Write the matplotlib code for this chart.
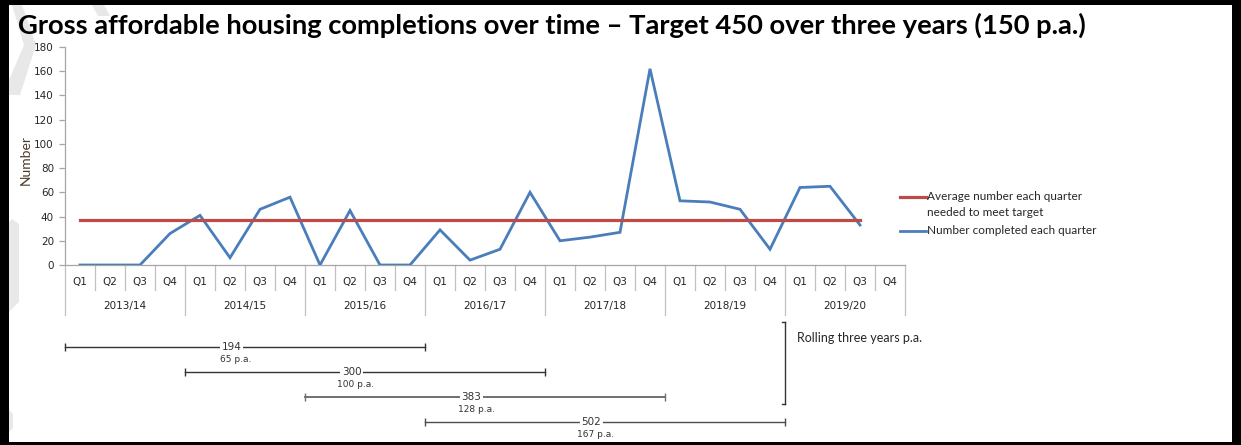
import matplotlib
matplotlib.use("Agg")
import matplotlib.pyplot as plt
import numpy as np
from matplotlib.lines import Line2D
from matplotlib.patches import Polygon, Rectangle

# quarterly completions, 2013/14 Q1 .. 2019/20 Q4 (last quarter not yet reported)
years = ["2013/14", "2014/15", "2015/16", "2016/17", "2017/18", "2018/19", "2019/20"]
quarter_names = ["Q1", "Q2", "Q3", "Q4"]
completions = [0, 0, 0, 26,
               41, 6, 46, 56,
               0, 45, 0, 0,
               29, 4, 13, 60,
               20, 23, 27, 162,
               53, 52, 46, 13,
               64, 65, 33, np.nan]

target_total = 450
target_years = 3
target_quarter = target_total / target_years / 4

# rolling three-year windows: first quarter index and total completed
window_starts = [0, 4, 8, 12]
window_totals = [194, 300, 383, 502]

W, H = 1241, 445


def fx(px):
    return px / W


def fy(py):
    return 1 - py / H


fig = plt.figure(figsize=(W / 100, H / 100), dpi=100)
fig.patch.set_facecolor("white")

# faint grey chevrons from the slide background
grey = "#e8e8e8"
shapes = [
    [(9, 5), (22, 5), (36, 45), (20, 95), (9, 95), (9, 80), (24, 45), (12, 5)],
    [(9, 222), (12, 219), (19, 224), (19, 302), (9, 312)],
    [(9, 410), (13, 414), (13, 428), (9, 432)],
    [(92, 5), (104, 5), (110, 16), (98, 16)],
]
for pts in shapes:
    fig.patches.append(Polygon([(fx(a), fy(b)) for a, b in pts], closed=True,
                               facecolor=grey, edgecolor="none",
                               transform=fig.transFigure, zorder=-2))

# black slide frame
for x0, y0, x1, y1 in [(0, 0, W, 5), (0, 0, 9, H), (1232, 0, W, H), (0, 442, W, H)]:
    fig.patches.append(Rectangle((fx(x0), fy(y1)), (x1 - x0) / W, (y1 - y0) / H,
                                 facecolor="black", edgecolor="none",
                                 transform=fig.transFigure, zorder=5))

title = fig.text(fx(18), fy(25), "Gross affordable housing completions over time \u2013 "
                 "Target 450 over three years (150 p.a.)",
                 family="Lato", weight="bold", fontsize=18, ha="left", va="center",
                 color="black")
fig.canvas.draw()
w = title.get_window_extent().width
title.set_fontsize(18 * (1088 - 18) / w)

ax = fig.add_axes([fx(65), fy(265), (905 - 65) / W, (265 - 47) / H])
ax.set_facecolor("none")
n = len(completions)
x = np.arange(n)
vals = np.array(completions, dtype=float)
have = x[~np.isnan(vals)]

ax.plot(x, vals, color="#4a7ebb", lw=2.0, solid_joinstyle="miter", zorder=3)
ax.plot([have[0], have[-1]], [target_quarter, target_quarter], color="#be4b48",
        lw=2.3, zorder=4)

ax.set_xlim(-0.5, n - 0.5)
ax.set_ylim(0, 180)
ax.set_yticks(range(0, 181, 20))
for s in ["top", "right"]:
    ax.spines[s].set_visible(False)
for s in ["left", "bottom"]:
    ax.spines[s].set_color("#a6a6a6")
    ax.spines[s].set_linewidth(0.9)
ax.tick_params(axis="y", length=4, width=0.9, color="#a6a6a6", labelsize=7.5,
               labelcolor="#262626", pad=4)
ax.set_xticks(x, quarter_names * len(years))
ax.tick_params(axis="x", length=0, labelsize=7.5, labelcolor="#262626", pad=9)
ax.set_ylabel("Number", family="Lato", fontsize=10, color="#4a3b2c")
ax.yaxis.set_label_coords(-0.040, 0.48)

# category separators: short between quarters, long between years
xt = ax.get_xaxis_transform()
ph = 265 - 47
for k in range(n + 1):
    b = k - 0.5
    depth = 50 if k % 4 == 0 else 25
    ax.plot([b, b], [0, -depth / ph], transform=xt, color="#c0c0c0", lw=0.9,
            clip_on=False)
for i, yr in enumerate(years):
    ax.text(4 * i + 1.5, -(306 - 265) / ph, yr, transform=xt, ha="center",
            va="center", fontsize=7.5, color="#262626")

# legend drawn by hand so the red key sits on the first text line
key_font = dict(family="Lato", fontsize=8.5, color="#262626", va="center", ha="left")
fig.add_artist(Line2D([fx(900), fx(926)], [fy(197), fy(197)], color="#be4b48", lw=2.3))
fig.add_artist(Line2D([fx(900), fx(926)], [fy(231), fy(231)], color="#4a7ebb", lw=2.0))
fig.text(fx(927), fy(197), "Average number each quarter", **key_font)
fig.text(fx(927), fy(212), "needed to meet target", **key_font)
fig.text(fx(927), fy(231), "Number completed each quarter", **key_font)

# rolling three-year spans below the category axis
bx = fig.add_axes([fx(65), fy(447), (905 - 65) / W, 125 / H])
bx.set_xlim(-0.5, n - 0.5)
bx.set_ylim(4, -1)
bx.axis("off")
span_colors = ["#333333", "#333333", "#707070", "#4d4d4d"]
span_widths = [1.0, 1.0, 1.4, 1.0]
for row, (s, tot) in enumerate(zip(window_starts, window_totals)):
    x0, x1 = s - 0.5, s + target_years * 4 - 0.5
    bx.plot([x0, x1], [row, row], color=span_colors[row], lw=span_widths[row],
            marker="|", markersize=6, markeredgewidth=1.0, clip_on=False)
    mid = (x0 + x1) / 2
    bx.text(mid - 0.45, row, f"{tot}", ha="center", va="center", fontsize=7.5,
            color="#333333", bbox=dict(facecolor="white", edgecolor="none", pad=1.2))
    bx.text(mid - 0.3, row + 0.5, f"{round(tot / target_years)} p.a.", ha="center",
            va="center", fontsize=6.5, color="#333333")

bx.plot([23.5, 23.5], [-1, 2.28], color="#333333", lw=1.0, clip_on=False)
bx.plot([23.4, 23.5], [-1, -1], color="#333333", lw=1.0, clip_on=False)
bx.plot([23.4, 23.5], [2.28, 2.28], color="#333333", lw=1.0, clip_on=False)
bx.text(23.9, -0.36, "Rolling three years p.a.", family="Lato", fontsize=9,
        color="#262626", ha="left", va="center")

fig.savefig("out.png", dpi=100)
